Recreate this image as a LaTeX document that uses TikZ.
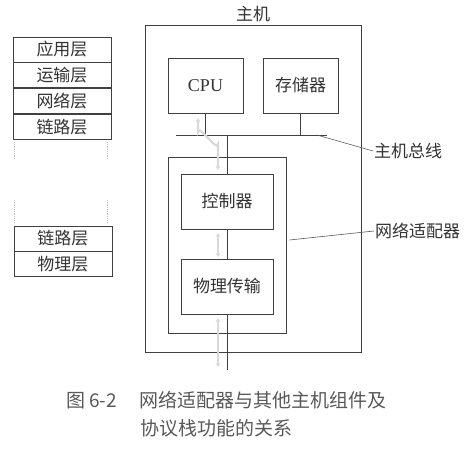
\documentclass[tikz,border=0pt]{standalone}
\usepackage{fontspec}
\setmainfont{Liberation Serif}
\newfontfamily\cjk{Noto Sans CJK SC}
\usetikzlibrary{positioning,arrows.meta}

\tikzset{
  box/.style={draw=black!75, line width=0.9pt, inner sep=0pt, font=\cjk\fontsize{17}{20}\selectfont, text=black!80},
  layer/.style={box, minimum width=98pt, minimum height=25pt},
  wire/.style={draw=black!75, line width=0.9pt},
  flow/.style={draw=black!15, line width=2.2pt, {Stealth[length=4pt,width=5pt]}-{Stealth[length=4pt,width=5pt]}},
  lbl/.style={font=\cjk\fontsize{17}{20}\selectfont, text=black!80, inner sep=1pt},
}

\begin{document}
\begin{tikzpicture}[x=1pt, y=-1pt]
		\useasboundingbox (0,0) rectangle (475,452);

		% Draw the host and its parts
		\node[box, minimum width=216pt, minimum height=327pt] (host) at (253,188.5) {};
		\node[lbl, above=1pt of host.north] (hosttitle) {主机};

		\node[box, minimum width=75pt, minimum height=55pt, font=\fontsize{18}{20}\selectfont] (cpu) at (205.5,85.5) {CPU};
		\node[box, minimum width=75pt, minimum height=55pt] (mem) at (300.5,85.5) {存储器};

		% Draw the bus
		\coordinate (busL) at (176,135);
		\coordinate (busR) at (327,135);
		\draw[wire] (busL) -- (busR);
		\draw[wire] (cpu.south) -- (cpu.south |- busL);
		\draw[wire] (mem.south) -- (mem.south |- busL);

		% Draw the adapter with controller and transmission
		\node[box, minimum width=118pt, minimum height=176pt] (adapter) at (227,245) {};
		\node[box, minimum width=92pt, minimum height=55pt] (ctrl) at (227,201.5) {控制器};
		\node[box, minimum width=92pt, minimum height=55pt] (phy) at (227,286.5) {物理传输};

		\coordinate (link) at (227,370);
		\draw[wire] (ctrl.north) -- (ctrl.north |- busL);
		\draw[wire] (ctrl.south) -- (phy.north);
		\draw[wire] (phy.south) -- (link);

		% Draw the faint data paths
		\draw[flow] (198,118) -- (198,132) to[out=90,in=-90] (218,144) -- (218,170);
		\draw[flow] (218,233) -- (218,257);
		\draw[flow] (218,318) -- (218,367);

		% Draw the labels with leader lines
		\node[lbl, anchor=west] (buslbl) at (373,151) {主机总线};
		\node[lbl, anchor=west] (adaptlbl) at (374,231) {网络适配器};
		\draw[draw=black!65, line width=0.6pt] (317,135) -- (buslbl.west);
		\draw[draw=black!65, line width=0.6pt] ([shift={(3,-5)}]adapter.east) -- (adaptlbl.west);

		% Draw the protocol stacks
		\node[layer] (app) at (62,49.5) {应用层};
		\node[layer, below=0pt of app] (trans) {运输层};
		\node[layer, below=0pt of trans] (net) {网络层};
		\node[layer, below=0pt of net] (dl) {链路层};

		\node[layer] (dl2) at (63,238.5) {链路层};
		\node[layer, below=0pt of dl2] (ph) {物理层};

		\draw[black!25, densely dotted, line width=0.8pt] (14,142) -- (14,160) (107,142) -- (107,160);
		\draw[black!25, densely dotted, line width=0.8pt] (14,200) -- (14,222) (107,200) -- (107,222);

		% Draw the caption
		\node[lbl, anchor=west, text=black!65, font=\cjk\fontsize{19}{22}\selectfont] (cap1) at (65,400) {图 6-2\hspace{22pt}网络适配器与其他主机组件及};
		\node[lbl, anchor=west, text=black!65, font=\cjk\fontsize{19}{22}\selectfont] (cap2) at (139,428) {协议栈功能的关系};

	\end{tikzpicture}
\end{document}
